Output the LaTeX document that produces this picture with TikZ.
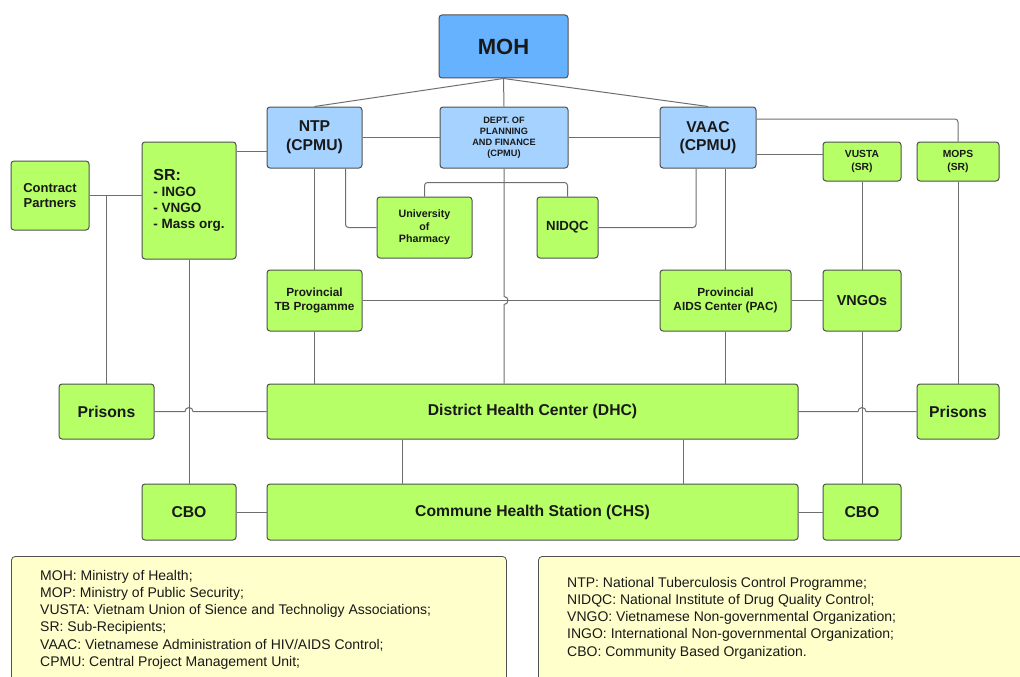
\documentclass[tikz,border=0pt]{standalone}
\usepackage{fontspec}
\setmainfont{Liberation Sans}
\usetikzlibrary{positioning}
\definecolor{limegreen}{RGB}{182,255,102}
\definecolor{mohblue}{RGB}{102,178,255}
\definecolor{paleblue}{RGB}{166,210,255}
\definecolor{boxline}{RGB}{80,80,80}
\definecolor{linkgray}{RGB}{110,110,110}
\definecolor{notefill}{RGB}{255,255,204}
\definecolor{ink}{RGB}{25,25,25}

\begin{document}
\begin{tikzpicture}[x=1pt, y=-1pt,
	org/.style={draw=boxline, line width=1pt, rounded corners=3pt, inner sep=0pt, align=center, text=ink},
	cpmu/.style={org, fill=paleblue, minimum width=95pt, minimum height=61pt, font=\bfseries\fontsize{15.7}{18.7}\selectfont},
	unit/.style={org, fill=limegreen, font=\bfseries\fontsize{15.7}{18.7}\selectfont},
	note/.style={draw=boxline, fill=notefill, line width=0.8pt, rounded corners=4pt, anchor=north west},
	notetext/.style={anchor=north west, align=left, inner sep=0pt, text=ink, font=\fontsize{14}{17.2}\selectfont},
	link/.style={draw=linkgray, line width=1pt}]
	\useasboundingbox (0,0) rectangle (1020,677);
	\clip (0,0) rectangle (1020,677);

	\node[org, fill=mohblue, minimum width=129pt, minimum height=63pt, font=\bfseries\fontsize{22}{26}\selectfont] (moh) at (503.5,46.5) {MOH};
	\node[cpmu] (ntp) at (314.5,137.5) {NTP\\(CPMU)};
	\node[cpmu, minimum width=128pt, font=\bfseries\fontsize{9.2}{11}\selectfont] (dept) at (504,137.5) {DEPT. OF\\PLANNING\\AND FINANCE\\(CPMU)};
	\node[cpmu, minimum width=96pt] (vaac) at (708,137.5) {VAAC\\(CPMU)};
	\node[unit, minimum width=78pt, minimum height=69pt, font=\bfseries\fontsize{13}{15.7}\selectfont] (cp) at (50,195.5) {Contract\\Partners};
	\node[unit, minimum width=94pt, minimum height=117pt, align=left, font=\bfseries\fontsize{13.5}{16}\selectfont] (sr) at (189,200.5) {{\fontsize{16}{16}\selectfont SR:}\\- INGO\\- VNGO\\- Mass org.};
	\node[unit, minimum width=95pt, minimum height=61pt, font=\bfseries\fontsize{10.7}{12.5}\selectfont] (univ) at (424.5,227.5) {University\\of\\Pharmacy};
	\node[unit, minimum width=61pt, minimum height=61pt, font=\bfseries\fontsize{13.2}{15}\selectfont] (nidqc) at (567.5,227.5) {NIDQC};
	\node[unit, minimum width=78pt, minimum height=39pt, font=\bfseries\fontsize{10.3}{13.3}\selectfont] (vusta) at (862,161.5) {VUSTA\\(SR)};
	\node[unit, minimum width=82pt, minimum height=39pt, font=\bfseries\fontsize{10.3}{13.3}\selectfont] (mops) at (958,161.5) {MOPS\\(SR)};
	\node[unit, minimum width=95pt, minimum height=61pt, font=\bfseries\fontsize{11.8}{14.8}\selectfont] (tb) at (314.5,300.5) {Provincial\\TB Progamme};
	\node[unit, minimum width=131pt, minimum height=61pt, font=\bfseries\fontsize{11.8}{14.8}\selectfont] (pac) at (725.5,300.5) {Provincial\\AIDS Center (PAC)};
	\node[unit, minimum width=78pt, minimum height=61pt, font=\bfseries\fontsize{14.4}{17}\selectfont] (vngos) at (862,300.5) {VNGOs};
	\node[unit, minimum width=95pt, minimum height=55pt] (prisL) at (106.5,411.5) {Prisons};
	\node[unit, minimum width=531pt, minimum height=55pt] (dhc) at (532.5,411.5) {District Health Center (DHC)};
	\node[unit, minimum width=82pt, minimum height=55pt] (prisR) at (958,411.5) {Prisons};
	\node[unit, minimum width=94pt, minimum height=56pt] (cboL) at (189,512) {CBO};
	\node[unit, minimum width=531pt, minimum height=56pt] (chs) at (532.5,512) {Commune Health Station (CHS)};
	\node[unit, minimum width=78pt, minimum height=56pt] (cboR) at (862,512) {CBO};

	\node[note, minimum width=495pt, minimum height=160pt] (noteL) at (11,556) {};
	\node[note, minimum width=500pt, minimum height=160pt] (noteR) at (538,556) {};
	\node[notetext] (noteLtext) at ([xshift=29pt, yshift=-14pt]noteL.north west) {MOH: Ministry of Health;\\MOP: Ministry of Public Security;\\VUSTA: Vietnam Union of Sience and Technoligy Associations;\\SR: Sub-Recipients;\\VAAC: Vietnamese Administration of HIV/AIDS Control;\\CPMU: Central Project Management Unit;};
	\node[notetext] (noteRtext) at ([xshift=29pt, yshift=-21pt]noteR.north west) {NTP: National Tuberculosis Control Programme;\\NIDQC: National Institute of Drug Quality Control;\\VNGO: Vietnamese Non-governmental Organization;\\INGO: International Non-governmental Organization;\\CBO: Community Based Organization.};

	\foreach \unitname in {ntp, dept, vaac}
		\draw[link] (moh.south) -- (\unitname.north);
	\draw[link] (ntp.east) -- (dept.west);
	\draw[link] (dept.east) -- (vaac.west);
	\coordinate (srjoin) at ([yshift=-13.5pt]ntp.west);
	\draw[link] (srjoin) -- (srjoin -| sr.east);
	\draw[link] (cp.east) -- (cp.east -| sr.west);
	\draw[link] (prisL.north) -- (prisL.north |- cp.east);
	\draw[link] (sr.south) -- (cboL.north);
	\draw[link] (ntp.south) -- (tb.north);
	\draw[link] (tb.south) -- (tb.south |- dhc.north);
	\draw[link, rounded corners=3pt] ([xshift=31pt]ntp.south) |- (univ.west);
	\coordinate (branch) at ([yshift=-14pt]dept.south);
	\draw[link, rounded corners=3pt] (univ.north) |- (branch) -| (nidqc.north);
	\draw[link, rounded corners=3pt] ([xshift=-12pt]vaac.south) |- (nidqc.east);
	\draw[link] (pac.north) -- (pac.north |- vaac.south);
	\draw[link] (pac.south) -- (pac.south |- dhc.north);
	\draw[link] (pac.east) -- (vngos.west);
	\coordinate (vustajoin) at ([yshift=-17pt]vaac.east);
	\draw[link] (vustajoin) -- (vustajoin -| vusta.west);
	\draw[link, rounded corners=3pt] ([yshift=18.5pt]vaac.east) -| (mops.north);
	\draw[link] (vusta.south) -- (vngos.north);
	\draw[link] (vngos.south) -- (cboR.north);
	\draw[link] (mops.south) -- (prisR.north);
	\draw[link] (tb.east) -- (pac.west);
	\coordinate (hopM) at (dept.south |- tb.east);
	\draw[link] (dept.south) -- ([yshift=4pt]hopM) arc[start angle=90, end angle=-90, radius=4pt] -- (dept.south |- dhc.north);
	\coordinate (hopL) at (cboL.north |- dhc.west);
	\draw[link] (prisL.east) -- ([xshift=-4pt]hopL) arc[start angle=180, end angle=0, radius=4pt] -- (dhc.west);
	\coordinate (hopR) at (cboR.north |- dhc.east);
	\draw[link] (dhc.east) -- ([xshift=-4pt]hopR) arc[start angle=180, end angle=0, radius=4pt] -- (prisR.west);
	\foreach \dx in {-130.5, 150.5}
		\draw[link] ([xshift=\dx pt]dhc.south) -- ([xshift=\dx pt]chs.north);
	\draw[link] (cboL.east) -- (chs.west);
	\draw[link] (chs.east) -- (cboR.west);
\end{tikzpicture}
\end{document}
